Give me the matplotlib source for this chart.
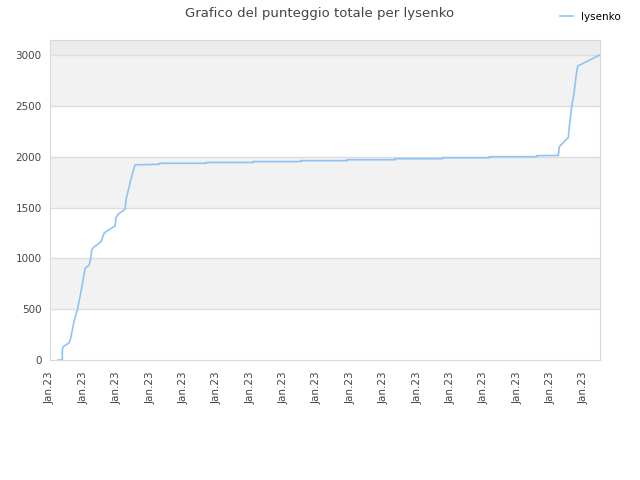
import numpy as np
import matplotlib
matplotlib.use('Agg')
import matplotlib.pyplot as plt

# x in tick units (one unit per "Jan.23" label), y = total score
pos = [0.240, 0.369, 0.369, 0.398, 0.578, 0.620, 0.659, 0.719, 0.818, 0.899,
       1.028, 1.049, 1.178, 1.219, 1.249, 1.297, 1.528, 1.618, 1.747, 1.948,
       1.978, 2.046, 2.247, 2.277, 2.346, 2.418, 2.547,
       3.275, 3.275, 4.674, 4.674, 6.091, 6.091, 7.512, 7.512, 8.908, 8.908,
       10.337, 10.337, 11.754, 11.754, 13.163, 13.163, 14.583, 14.583, 15.230,
       15.260, 15.530, 15.560, 15.631, 15.700, 15.760, 15.811, 16.458]
score = [0, 0, 98, 131, 170, 213, 279, 377, 492, 623,
         853, 902, 935, 1000, 1082, 1105, 1164, 1246, 1279, 1318,
         1400, 1436, 1482, 1574, 1672, 1770, 1920,
         1925, 1935, 1935, 1943, 1943, 1952, 1952, 1961, 1961, 1970,
         1970, 1980, 1980, 1990, 1990, 2000, 2000, 2010, 2012,
         2098, 2190, 2295, 2491, 2623, 2787, 2892, 2998]
tick_pos = list(range(17))
tick_labels = ['Jan.23'] * 17
y_ticks = [0, 500, 1000, 1500, 2000, 2500, 3000]

txt = '#444444'
fig = plt.figure(figsize=(6.4, 4.8), dpi=100)
ax = fig.add_axes([50 / 640, 120 / 480, 550 / 640, 320 / 480])

ymax = 3148
# alternating bands
for i, lo in enumerate(y_ticks):
    hi = min(lo + 500, ymax)
    if i % 2 == 1:
        ax.axhspan(lo, hi, color='#f2f2f2', lw=0, zorder=0)
ax.axhspan(3000, ymax, color='#ececec', lw=0, zorder=0)
for y in y_ticks[1:]:
    ax.axhline(y, color='#dddddd', lw=1, zorder=1)

ax.plot(pos, score, color='#90c3f5', lw=1.2, label='lysenko', zorder=3)

ax.set_xlim(0, 16.479)
ax.set_ylim(0, ymax)
ax.set_xticks(tick_pos)
ax.set_xticklabels(tick_labels, rotation=90, fontsize=7.5, color=txt)
ax.set_yticks(y_ticks)
ax.set_yticklabels([str(v) for v in y_ticks], fontsize=7.5, color=txt)
ax.tick_params(length=0, pad=6)
ax.tick_params(axis='x', pad=8)
for s in ax.spines.values():
    s.set_color('#d9d9d9')

fig.suptitle('Grafico del punteggio totale per lysenko', x=0.5, y=0.985,
             fontsize=9.5, color=txt)
fig.legend(loc='upper right', bbox_to_anchor=(0.985, 0.995), frameon=False,
           fontsize=7.5, handlelength=1.2, labelcolor='black')

fig.savefig('out.png', dpi=100)
